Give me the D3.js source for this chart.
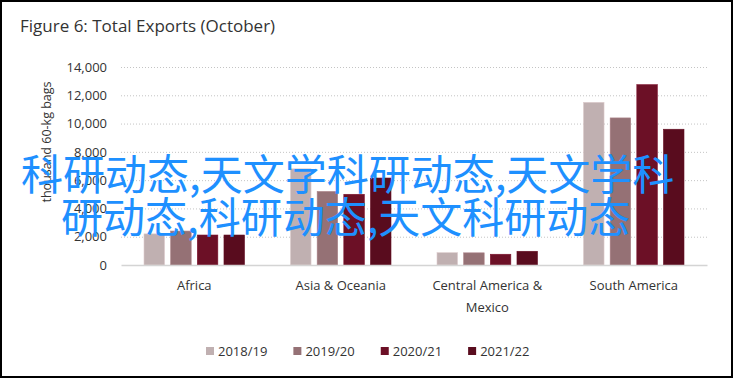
<!DOCTYPE html>
<meta charset="utf-8">
<style>
body { margin: 0; background: #fff; }
text { font-family: "Open Sans", "Noto Sans", sans-serif; fill: #333; }
.grid line { stroke: #c4c4c4; stroke-dasharray: 1,2; }
.grid path { display: none; }
.overlay { font-family: "Noto Sans CJK SC", sans-serif; fill: #1e90ff; font-size: 42px; }
</style>
<body>
<script src="https://d3js.org/d3.v7.min.js"></script>
<script>

// data
var regions = ["Africa", "Asia & Oceania", "Central America & Mexico", "South America"];
var regionLabels = [["Africa"], ["Asia & Oceania"], ["Central America &", "Mexico"], ["South America"]];
var seasons = ["2018/19", "2019/20", "2020/21", "2021/22"];
var colors = ["#c0b0b1", "#957175", "#6c1026", "#590c1e"];
var africa = [2200, 2400, 2120, 2120];
var asiaOceania = [6800, 5200, 5000, 6150];
var centralAmerica = [870, 860, 760, 970];
var southAmerica = [11500, 10400, 12750, 9600];
var yTicks = [0, 2000, 4000, 6000, 8000, 10000, 12000, 14000];

var values = [africa, asiaOceania, centralAmerica, southAmerica];

var width = 736, height = 380;

var svg = d3.select("body").append("svg")
    .attr("width", width)
    .attr("height", height);

// outer frame
svg.append("rect")
    .attr("x", 1).attr("y", 1)
    .attr("width", 731).attr("height", 376)
    .attr("fill", "#fff")
    .attr("stroke", "#000")
    .attr("stroke-width", 2);

// title
svg.append("text")
    .attr("x", 20)
    .attr("y", 32)
    .style("font-size", "17px")
    .text("Figure 6: Total Exports (October)");

// scales
var x0 = d3.scaleBand().domain(regions).range([121, 707]);
var x1 = d3.scaleBand().domain(seasons).range([0, 100.5]).paddingInner(0.23);
var y = d3.scaleLinear().domain([0, 14000]).range([265, 67]);
var color = d3.scaleOrdinal().domain(seasons).range(colors);

// dotted gridlines + y tick labels
var yAxis = svg.append("g")
    .attr("class", "grid")
    .attr("transform", "translate(121,0)")
    .call(d3.axisLeft(y).tickValues(yTicks).tickSize(-586).tickPadding(14)
        .tickFormat(d3.format(",")));
yAxis.selectAll("text").style("font-size", "13px").attr("fill", "#333");
yAxis.selectAll(".tick").filter(function(d) { return d === 0; }).select("line").remove();

// y axis title
svg.append("text")
    .attr("transform", "translate(51,142) rotate(-90)")
    .style("text-anchor", "middle")
    .style("font-size", "12.5px")
    .text("thousand 60-kg bags");

// bars
var groups = svg.selectAll(".region")
    .data(regions)
  .enter().append("g")
    .attr("class", "region")
    .attr("transform", function(d) { return "translate(" + (x0(d) + (x0.bandwidth() - 100.5) / 2) + ",0)"; });

groups.selectAll("rect")
    .data(function(d, i) { return seasons.map(function(s, j) { return {season: s, value: values[i][j]}; }); })
  .enter().append("rect")
    .attr("x", function(d) { return x1(d.season); })
    .attr("width", x1.bandwidth())
    .attr("y", function(d) { return y(d.value); })
    .attr("height", function(d) { return y(0) - y(d.value); })
    .attr("fill", function(d) { return color(d.season); })
    .attr("stroke", function(d) { return d3.color(color(d.season)).brighter(0.4); })
    .attr("stroke-width", 0.6);

// x axis baseline + labels
var xAxis = svg.append("g")
    .attr("transform", "translate(0," + y(0) + ")")
    .call(d3.axisBottom(x0).tickSize(0).tickPadding(0));
xAxis.select(".domain").attr("stroke", "#d4d4d4").attr("stroke-width", 1.5);
xAxis.selectAll(".tick text").each(function(d, i) {
    var t = d3.select(this).text(null).attr("y", 0).attr("dy", null);
    regionLabels[i].forEach(function(line, k) {
        t.append("tspan")
            .attr("x", 0)
            .attr("y", 25 + k * 22)
            .text(line);
    });
}).style("font-size", "13px").attr("fill", "#333");

// legend
var legend = svg.append("g").attr("transform", "translate(206,352)");
var lx = 0;
seasons.forEach(function(s) {
    var item = legend.append("g").attr("transform", "translate(" + lx + ",0)");
    item.append("rect")
        .attr("x", 0).attr("y", -5)
        .attr("width", 8).attr("height", 8)
        .attr("fill", color(s));
    var txt = item.append("text")
        .attr("x", 12).attr("y", 4)
        .style("font-size", "13px")
        .text(s);
    lx += 12 + txt.node().getComputedTextLength() + 26;
});

// overlay text
svg.append("text").attr("class", "overlay")
    .attr("x", 21).attr("y", 190)
    .text("科研动态,天文学科研动态,天文学科");
svg.append("text").attr("class", "overlay")
    .attr("x", 61).attr("y", 233)
    .text("研动态,科研动态,天文科研动态");

</script>
</body>
